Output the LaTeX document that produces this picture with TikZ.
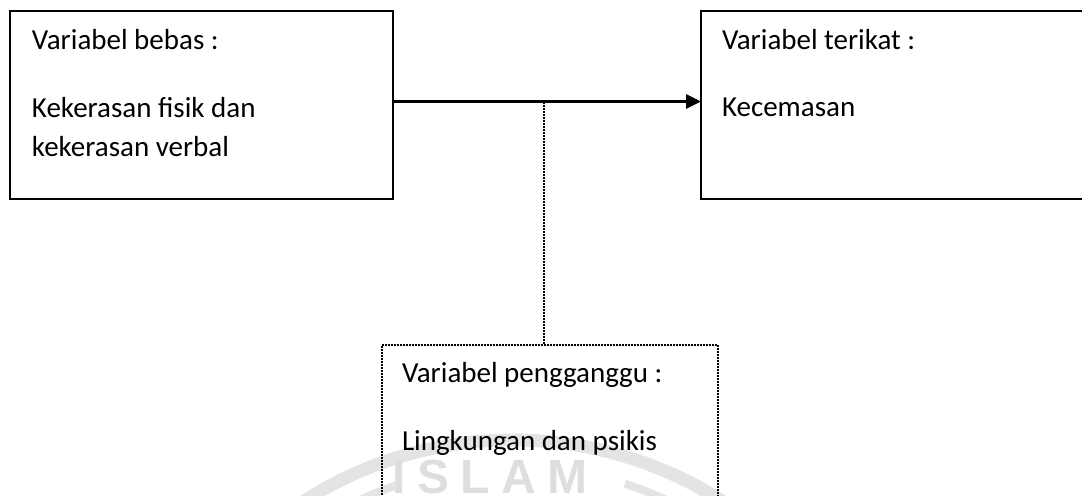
\documentclass[tikz,border=0pt]{standalone}
\usepackage{fontspec}
\setmainfont{Carlito}
\newfontfamily\wmfont[LetterSpace=24]{Liberation Sans}
\usetikzlibrary{arrows.meta}
\definecolor{wmgray}{HTML}{E4E4E4}
\definecolor{wmtext}{HTML}{DEDEDE}
\tikzset{
  box/.style={draw=black, line width=1pt, rectangle, inner sep=0pt, outer sep=0pt},
  dotbox/.style={draw=black, line width=0.9pt, dash pattern=on 0.9pt off 0.6pt, rectangle, inner sep=0pt, outer sep=0pt},
  lbl/.style={anchor=base west, inner sep=0pt, outer sep=0pt, font=\fontsize{14.5}{17}\selectfont},
  mainarrow/.style={line width=1.5pt, -{Triangle[length=7.5pt,width=7pt]}},
  dotline/.style={line width=0.9pt, dash pattern=on 0.9pt off 0.6pt},
  wmring/.style={draw=wmgray, line width=6.5pt},
  wminner/.style={draw=wmgray, line width=4pt}
}
\begin{document}
\begin{tikzpicture}[x=0.5pt,y=-0.5pt]
\useasboundingbox (0,0) rectangle (1082,496);
\clip (0,0) rectangle (1082,496);
% faint watermark
\draw[wmring] (513,828) circle [radius=194pt];
\draw[wminner] (513,828) ++(55:181pt) arc[start angle=55, end angle=72, radius=181pt];
\draw[wminner] (513,828) ++(108:181pt) arc[start angle=108, end angle=125, radius=181pt];
\node[anchor=base west, inner sep=0pt, text=wmtext, font=\wmfont\bfseries\fontsize{24}{24}\selectfont] (wm) at (392,494) {ISLAM};
% boxes
\node[box, minimum width=191.5pt, minimum height=94pt] (lb) at (201.5,105) {};
\node[box, minimum width=199.5pt, minimum height=94pt] (rb) at (900.5,105) {};
\node[dotbox, minimum width=168pt, minimum height=107.5pt] (bb) at (550,452.5) {};
% texts
\node[lbl] (l1) at (32,50) {Variabel bebas :};
\node[lbl] (l2) at (32,118) {Kekerasan fisik dan};
\node[lbl] (l3) at (32,157) {kekerasan verbal};
\node[lbl] (r1) at (722,50) {Variabel terikat :};
\node[lbl] (r2) at (722,117) {Kecemasan};
\node[lbl] (b1) at (402,383) {Variabel pengganggu :};
\node[lbl] (b2) at (402,451) {Lingkungan dan psikis};
% connectors
\draw[mainarrow] ([yshift=1.75pt]lb.east) -- ([yshift=1.75pt]rb.west);
\coordinate (j) at (544,102.5);
\draw[dotline] (j) -- (j |- bb.north);
\end{tikzpicture}
\end{document}
